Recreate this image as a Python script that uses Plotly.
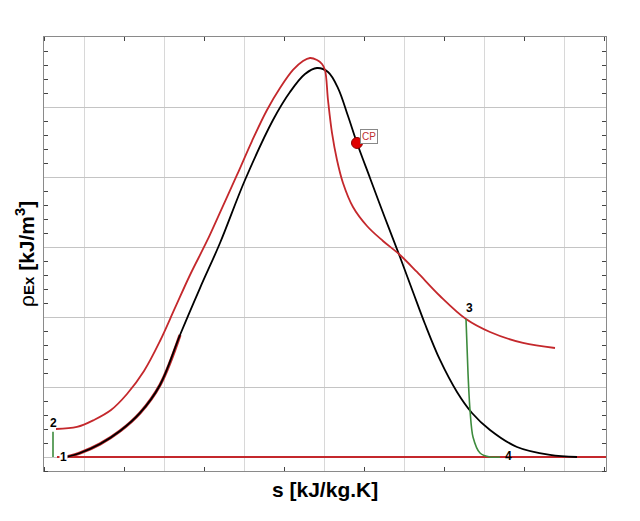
import plotly.graph_objects as go

# black dome curve
black_s = [0.775, 0.95, 1.2, 1.45, 1.7, 1.95, 2.2, 2.45, 2.7, 3.0125,
           3.3625, 3.575, 3.7625, 3.9125, 4.05, 4.175, 4.3, 4.4125, 4.575, 4.7625,
           4.95, 5.1125, 5.2625, 5.45, 5.6625, 5.85, 6.075, 6.4125, 6.825, 7.1625]
black_ex = [0.0, 0.057, 0.186, 0.371, 0.629, 1.029, 1.743, 2.414, 3.057, 3.957,
            4.814, 5.214, 5.471, 5.557, 5.5, 5.271, 4.871, 4.486, 3.986, 3.414,
            2.857, 2.357, 1.9, 1.386, 0.929, 0.629, 0.386, 0.143, 0.029, 0.0]

# red curve from point 2
red_s = [0.65, 0.9125, 1.125, 1.3375, 1.5375, 1.75, 1.95, 2.1375, 2.325, 2.5375,
         2.725, 2.9125, 3.1, 3.2875, 3.45, 3.6125, 3.7375, 3.825, 3.9125, 3.975,
         4.0125, 4.05, 4.1, 4.1625, 4.2375, 4.3625, 4.5375, 4.7375, 4.95, 5.1625,
         5.45, 5.775, 6.075, 6.4875, 6.8875]
red_ex = [0.4, 0.429, 0.529, 0.671, 0.9, 1.229, 1.657, 2.129, 2.6, 3.086,
          3.557, 4.029, 4.514, 4.957, 5.271, 5.529, 5.657, 5.7, 5.671, 5.614,
          5.529, 5.1, 4.629, 4.243, 3.914, 3.571, 3.3, 3.086, 2.886, 2.643,
          2.3, 1.971, 1.786, 1.629, 1.557]

# red trace under the black one, starting at point 1
red_low_s = [0.775, 0.95, 1.2, 1.45, 1.7, 1.95, 2.2]
red_low_ex = [0.0, 0.057, 0.186, 0.371, 0.629, 1.029, 1.743]

# dead state line
base_s = [0.6625, 7.525]
base_ex = [0.0, 0.0]

# process 1-2
p12_s = [0.6125, 0.6125]
p12_ex = [0.0, 0.36]

# process 3-4
p34_s = [5.775, 5.8, 5.825, 5.8625, 5.95, 6.075, 6.2]
p34_ex = [1.971, 1.2, 0.671, 0.286, 0.057, 0.0, 0.0]

cp_s = [4.4125]
cp_ex = [4.486]

RED = "#c4282c"
GREEN = "#3d8b3d"
FONT = "Liberation Sans, Arial, sans-serif"

fig = go.Figure()
fig.add_trace(go.Scatter(x=base_s, y=base_ex, mode="lines", line=dict(color=RED, width=2.2)))
fig.add_trace(go.Scatter(x=red_low_s, y=red_low_ex, mode="lines",
                         line=dict(color=RED, width=3.2, shape="spline", smoothing=1)))
fig.add_trace(go.Scatter(x=black_s, y=black_ex, mode="lines",
                         line=dict(color="black", width=1.8, shape="spline", smoothing=1)))
fig.add_trace(go.Scatter(x=red_s, y=red_ex, mode="lines",
                         line=dict(color=RED, width=1.8, shape="spline", smoothing=1)))
fig.add_trace(go.Scatter(x=p12_s, y=p12_ex, mode="lines", line=dict(color=GREEN, width=1.6)))
fig.add_trace(go.Scatter(x=p34_s, y=p34_ex, mode="lines",
                         line=dict(color=GREEN, width=1.6, shape="spline", smoothing=0.8)))
fig.add_trace(go.Scatter(x=cp_s, y=cp_ex, mode="markers",
                         marker=dict(color="#e00000", size=11, line=dict(color="#900000", width=1))))

lbl = dict(showarrow=False, font=dict(family=FONT, size=12, color="black"), xref="x", yref="y")
fig.add_annotation(x=black_s[0], y=black_ex[0], text="<b>1</b>", xshift=-3, bgcolor="white",
                   borderpad=0, **lbl)
fig.add_annotation(x=p12_s[1], y=p12_ex[1], text="<b>2</b>", yshift=9, **lbl)
fig.add_annotation(x=p34_s[0], y=p34_ex[0], text="<b>3</b>", xshift=3, yshift=11, **lbl)
fig.add_annotation(x=p34_s[-1], y=p34_ex[-1], text="<b>4</b>", xshift=8, yshift=1, **lbl)
fig.add_annotation(x=cp_s[0], y=cp_ex[0], text="CP", xshift=12, yshift=6, showarrow=False,
                   xanchor="center", font=dict(family=FONT, size=10, color="#c03030"),
                   bgcolor="white", bordercolor="#888888", borderwidth=1, borderpad=1)

fig.add_annotation(x=0.5, y=0, yshift=-5, xref="paper", yref="paper", yanchor="top",
                   showarrow=False, text="<b>s [kJ/kg.K]</b>",
                   font=dict(family=FONT, size=21, color="black"))
fig.add_annotation(x=0, y=0.5, xshift=-4, xref="paper", yref="paper", xanchor="right",
                   showarrow=False, textangle=-90,
                   text="ρ<b><span style='font-size:15px'>Ex</span> [kJ/m<sup style='font-size:15px'>3</sup>]</b>",
                   font=dict(family=FONT, size=21, color="black"))

axis_common = dict(showline=True, linecolor="#8a8a8a", linewidth=1, mirror="ticks",
                   ticks="", showticklabels=False, zeroline=False)

# page body adds an 8px offset, so margins are shifted to compensate
fig.update_layout(
    width=640, height=521,
    margin=dict(l=36, r=42, t=29, b=58),
    paper_bgcolor="white", plot_bgcolor="white",
    showlegend=False,
    xaxis=dict(range=[0.5, 7.525], dtick=1, tick0=0, showgrid=True, gridcolor="#d8d8d8",
               minor=dict(dtick=0.5, tick0=0.5, ticks="inside", ticklen=4, tickcolor="#444",
                          showgrid=False),
               **axis_common),
    yaxis=dict(range=[-0.2, 6.0], dtick=1, tick0=0, showgrid=True, gridcolor="#c4c4c4",
               minor=dict(dtick=0.2, tick0=0, ticks="inside", ticklen=4, tickcolor="#444",
                          showgrid=False),
               **axis_common),
)

fig.write_html("out.html")
